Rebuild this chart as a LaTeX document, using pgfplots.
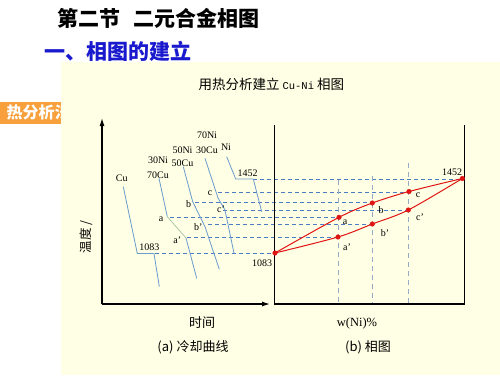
\documentclass[border=0pt]{standalone}
\usepackage{pgfplots}
\pgfplotsset{compat=1.18}
\usetikzlibrary{arrows.meta}
\usepackage{fontspec}
\setmainfont{Liberation Serif}
\newfontfamily\cjk{Noto Sans CJK SC}
\newfontfamily\mono{Liberation Mono}
\definecolor{cream}{RGB}{255,255,229}
\definecolor{orng}{RGB}{247,160,60}
\definecolor{cblue}{RGB}{105,155,205}
\definecolor{cgreen}{RGB}{170,200,170}
\definecolor{dblue}{RGB}{75,125,195}
\definecolor{vgrey}{RGB}{150,170,195}
\definecolor{pred}{RGB}{225,20,20}
\definecolor{tblue}{RGB}{25,25,205}
\begin{document}
\begin{tikzpicture}
\begin{axis}[width=500pt,height=375pt,scale only axis,
  xmin=0,xmax=500,ymin=0,ymax=375,y dir=reverse,
  hide axis, clip=false]
% backgrounds
\addplot[draw=none,fill=white] coordinates {(0,0)(500,0)(500,375)(0,375)} -- cycle;
\addplot[draw=none,fill=orng] coordinates {(0,101.5)(62,101.5)(62,123.5)(0,123.5)} -- cycle;
\node[anchor=west,text=white,font=\cjk\bfseries\fontsize{16}{16}\selectfont] at (axis cs:3,112.5) {热分析法};
\addplot[draw=none,fill=cream] coordinates {(61,62)(500,62)(500,375)(61,375)} -- cycle;
% titles
\node[anchor=west,font=\cjk\bfseries\fontsize{21}{21}\selectfont] at (axis cs:54,18) {第二节\hspace{0.6em}二元合金相图};
\node[anchor=west,text=tblue,font=\cjk\bfseries\fontsize{21}{21}\selectfont] at (axis cs:41,51) {一、相图的建立};
\node[anchor=west,font=\cjk\fontsize{13.5}{13.5}\selectfont] at (axis cs:195,84) {用热分析建立 {\mono\fontsize{10.5}{10.5}\selectfont Cu-Ni} 相图};
% horizontal dashed lines
\pgfplotsset{hd/.style={dblue,line width=0.65pt,dash pattern=on 4pt off 3pt}}
\addplot[hd] coordinates {(253,179)(462,179)};
\addplot[hd] coordinates {(218,192)(409,192)};
\addplot[hd] coordinates {(195,202.5)(372,202.5)};
\addplot[hd] coordinates {(223,210)(408,210)};
\addplot[hd] coordinates {(170,217.3)(339,217.3)};
\addplot[hd] coordinates {(208,224.5)(372,224.5)};
\addplot[hd] coordinates {(187,237.5)(338,237.5)};
\addplot[hd] coordinates {(155,253.5)(275,253.5)};
% vertical dashed lines
\pgfplotsset{vd/.style={vgrey,line width=0.6pt,dash pattern=on 5pt off 4pt}}
\addplot[vd] coordinates {(338.5,180)(338.5,304)};
\addplot[vd] coordinates {(372.3,176)(372.3,304)};
\addplot[vd] coordinates {(408.7,163)(408.7,304)};
% cooling curves
\pgfplotsset{cc/.style={cblue,line width=0.8pt}}
\addplot[cc] coordinates {(123.3,186.7)(137.3,253.5)(154,253.5)(159.3,286.7)};
\addplot[cc] coordinates {(159,178.3)(167.3,216.7)};
\addplot[cgreen,line width=0.8pt] coordinates {(167.3,216.7)(186,238)};
\addplot[cc] coordinates {(186,238)(196.7,278.3)};
\addplot[cc] coordinates {(183.3,166.7)(192.7,201.7)(205,226.7)(219.3,269.3)};
\addplot[cc] coordinates {(205,158.3)(218,198)(225,210)(234,253.3)};
\addplot[cc] coordinates {(226.7,156.7)(235.7,179)(253.3,179)(261.7,211.7)};
% axes
\addplot[black,line width=1.2pt,-{Latex[length=8pt,width=5pt]}] coordinates {(102,304)(102,118)};
\addplot[black,line width=1.2pt,-{Latex[length=8pt,width=5pt]}] coordinates {(102,304)(270,304)};
\addplot[black,line width=1.2pt] coordinates {(274.3,125)(274.3,304)(464.3,304)(464.3,125)};
% phase diagram curves
\addplot[pred,line width=1pt,smooth,tension=0.5] coordinates {(275,253)(339,217.3)(372.3,203)(409,191.5)(462.3,178.5)};
\addplot[pred,line width=1pt,smooth,tension=0.5] coordinates {(275,253)(338,237)(372.3,224)(408.3,210)(462.3,178.5)};
\addplot[only marks,mark=*,mark size=2.3pt,pred] coordinates {(275,253)(339,217.3)(372.3,203)(409,191.5)(462.3,178.5)(338,237)(372.3,224)(408.3,210)};
% labels
\def\lf{\fontsize{10}{10}\selectfont}
\node[font=\lf] at (axis cs:418,195) {c};
\node[font=\lf] at (axis cs:381,210) {b};
\node[font=\lf] at (axis cs:345,222) {a};
\node[font=\lf] at (axis cs:420,217) {c'};
\node[font=\lf] at (axis cs:385,233) {b'};
\node[font=\lf] at (axis cs:347,247) {a'};
\node[font=\lf] at (axis cs:452,172) {1452};
\node[font=\lf] at (axis cs:262,263) {1083};
\node[font=\lf] at (axis cs:121.7,178.3) {Cu};
\node[font=\lf] at (axis cs:149.3,247.3) {1083};
\node[font=\lf] at (axis cs:158,160.7) {30Ni};
\node[font=\lf] at (axis cs:158,175) {70Cu};
\node[font=\lf] at (axis cs:161,219.3) {a};
\node[font=\lf] at (axis cs:177.3,240.7) {a'};
\node[font=\lf] at (axis cs:182.5,150) {50Ni};
\node[font=\lf] at (axis cs:182.5,163.3) {50Cu};
\node[font=\lf] at (axis cs:188.7,204.3) {b};
\node[font=\lf] at (axis cs:198.3,227.3) {b'};
\node[font=\lf] at (axis cs:207,135) {70Ni};
\node[font=\lf] at (axis cs:207,150) {30Cu};
\node[font=\lf] at (axis cs:210,193.3) {c};
\node[font=\lf] at (axis cs:221,209.3) {c'};
\node[font=\lf] at (axis cs:226,147.3) {Ni};
\node[font=\lf] at (axis cs:247.7,173.3) {1452};
% axis titles
\node[rotate=90,font=\cjk\fontsize{12.5}{12.5}\selectfont] at (axis cs:86,237) {温度 /};
\node[font=\cjk\fontsize{13}{13}\selectfont] at (axis cs:202,323) {时间};
\node[font=\fontsize{12.5}{12.5}\selectfont] at (axis cs:357,323) {w(Ni)\%};
\node[font=\cjk\fontsize{13}{13}\selectfont] at (axis cs:193,347) {(a) 冷却曲线};
\node[font=\cjk\fontsize{13}{13}\selectfont] at (axis cs:368,347) {(b) 相图};
\end{axis}
\end{tikzpicture}
\end{document}
